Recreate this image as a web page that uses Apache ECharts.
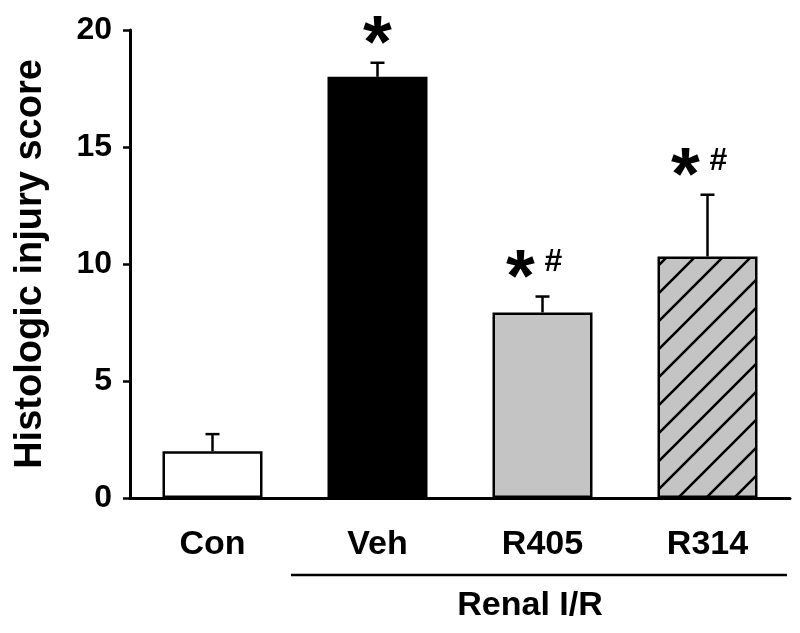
<!DOCTYPE html>
<html>
<head>
<meta charset="utf-8">
<script src="https://cdn.jsdelivr.net/npm/echarts@6/dist/echarts.min.js"></script>
<style>
  html, body { margin: 0; padding: 0; background: #fff; }
  #chart { width: 800px; height: 633px; }
</style>
</head>
<body>
<div id="chart"></div>
<script>
const categories = ["Con", "Veh", "R405", "R314"]
const means = [2.0, 18.0, 7.93, 10.32]
const errors = [0.73, 0.6, 0.68, 2.64]
const marks = ["", "*", "*#", "*#"]
const yTicks = [0, 5, 10, 15, 20]

const FONT = "Arial, 'Liberation Sans', sans-serif"

// hatched fill for R314: grey with black diagonal lines
const makeHatch = () => {
  const c = document.createElement("canvas")
  const s = 28
  c.width = s
  c.height = s
  const g = c.getContext("2d")
  g.fillStyle = "#c4c4c4"
  g.fillRect(0, 0, s, s)
  g.strokeStyle = "#000"
  g.lineWidth = 2.6
  g.beginPath()
  g.moveTo(-4, s + 4); g.lineTo(s + 4, -4)
  g.moveTo(-4, 4); g.lineTo(4, -4)
  g.moveTo(s - 4, s + 4); g.lineTo(s + 4, s - 4)
  g.stroke()
  return c
}

const fills = ["#ffffff", "#000000", "#c4c4c4", { image: makeHatch(), repeat: "repeat" }]

const chart = echarts.init(document.getElementById("chart"))

chart.setOption({
  animation: false,
  backgroundColor: "#fff",
  grid: { left: 130, right: 10, top: 30, bottom: 135 },
  xAxis: {
    type: "category",
    data: categories,
    axisLine: { lineStyle: { color: "#000", width: 3 } },
    axisTick: { show: false },
    axisLabel: { color: "#000", fontFamily: FONT, fontWeight: "bold", fontSize: 34, margin: 30 }
  },
  yAxis: {
    type: "value",
    min: yTicks[0],
    max: yTicks[yTicks.length - 1],
    interval: 5,
    name: "Histologic injury score",
    nameLocation: "middle",
    nameGap: 80,
    nameTextStyle: { color: "#000", fontFamily: FONT, fontWeight: "bold", fontSize: 38 },
    axisLine: { show: true, lineStyle: { color: "#000", width: 3 } },
    axisTick: { show: true, length: 7, lineStyle: { color: "#000", width: 2.5 } },
    axisLabel: { color: "#000", fontFamily: FONT, fontWeight: "bold", fontSize: 32, margin: 18 },
    splitLine: { show: false }
  },
  series: [
    {
      type: "bar",
      barWidth: 100,
      data: means.map((v, i) => ({
        value: v,
        itemStyle: { color: fills[i], borderColor: "#000", borderWidth: 2.5 }
      }))
    },
    {
      type: "custom",
      data: means.map((v, i) => [i, v, v + errors[i]]),
      z: 3,
      renderItem: (params, api) => {
        const base = api.coord([api.value(0), api.value(1)])
        const top = api.coord([api.value(0), api.value(2)])
        const x = base[0]
        const style = { stroke: "#000", lineWidth: 2.5 }
        const children = [
          { type: "line", shape: { x1: x, y1: base[1], x2: x, y2: top[1] }, style },
          { type: "line", shape: { x1: x - 7, y1: top[1], x2: x + 7, y2: top[1] }, style }
        ]
        const m = marks[params.dataIndex]
        if (m) {
          const hasHash = m.length > 1
          const yc = top[1] - 33
          children.push({
            type: "text",
            style: {
              x: hasHash ? x - 22 : x,
              y: yc + 17,
              text: "*",
              align: "center",
              verticalAlign: "middle",
              fontFamily: FONT, fontWeight: "bold", fontSize: 74, fill: "#000"
            }
          })
          if (hasHash) {
            children.push({
              type: "text",
              style: {
                x: x + 11,
                y: yc - 1,
                text: "#",
                align: "center",
                verticalAlign: "middle",
                fontFamily: FONT, fontWeight: "bold", fontSize: 32, fill: "#000"
              }
            })
          }
        }
        return { type: "group", children }
      }
    }
  ],
  graphic: [
    {
      type: "line",
      shape: { x1: 291, y1: 575, x2: 787, y2: 575 },
      style: { stroke: "#000", lineWidth: 2.5 }
    },
    {
      type: "text",
      x: 530,
      y: 606,
      style: {
        text: "Renal I/R", align: "center", verticalAlign: "middle",
        fill: "#000", fontFamily: FONT, fontWeight: "bold", fontSize: 34
      }
    }
  ]
})
</script>
</body>
</html>
